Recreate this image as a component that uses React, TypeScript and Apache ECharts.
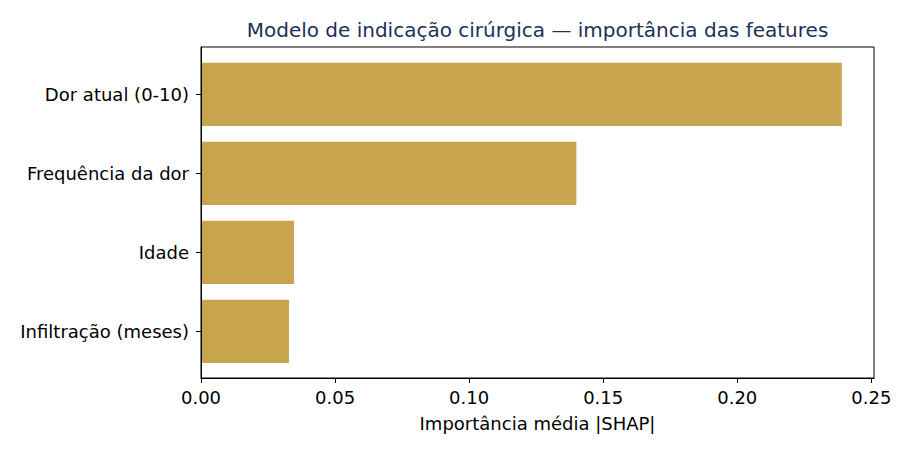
import { useEffect, useRef } from 'react'
import * as echarts from 'echarts'

// dados
const features = ['Dor atual (0-10)', 'Frequência da dor', 'Idade', 'Infiltração (meses)']
const importance = [0.239, 0.14, 0.0347, 0.0328]
const xTicks = [0, 0.05, 0.1, 0.15, 0.2, 0.25]

const FONT = 'DejaVu Sans'
const X_MAX = 0.251

export default function App() {
  const chartRef = useRef<HTMLDivElement>(null)

  useEffect(() => {
    if (!chartRef.current) return
    const chart = echarts.init(chartRef.current, null, { renderer: 'svg' })

    const option: echarts.EChartsOption = {
      animation: false,
      backgroundColor: '#ffffff',
      textStyle: { fontFamily: FONT },
      title: {
        text: 'Modelo de indicação cirúrgica — importância das features',
        left: 532.5,
        textAlign: 'center',
        top: 15,
        textStyle: {
          fontFamily: FONT,
          fontSize: 20,
          fontWeight: 'normal',
          color: '#1c3157'
        }
      },
      grid: [
        // moldura (eixos)
        {
          left: 201,
          top: 47,
          width: 673,
          height: 331,
          show: true,
          borderColor: '#000',
          borderWidth: 1,
          backgroundColor: 'transparent'
        },
        // área das barras
        {
          left: 201,
          top: 54.8,
          width: 673,
          height: 316
        }
      ],
      xAxis: [
        {
          type: 'value',
          gridIndex: 0,
          min: 0,
          max: X_MAX,
          z: 10,
          axisLine: { show: true, lineStyle: { color: '#000', width: 1 } },
          axisTick: {
            show: true,
            length: 5,
            customValues: xTicks,
            lineStyle: { color: '#000', width: 1 }
          },
          axisLabel: {
            customValues: xTicks,
            formatter: (v: number) => v.toFixed(2),
            fontSize: 18,
            color: '#000',
            fontFamily: FONT,
            margin: 10
          },
          splitLine: { show: false },
          name: 'Importância média |SHAP|',
          nameLocation: 'middle',
          nameGap: 36,
          nameTextStyle: { fontSize: 18, color: '#000', fontFamily: FONT }
        },
        {
          type: 'value',
          gridIndex: 1,
          min: 0,
          max: X_MAX,
          show: false
        }
      ],
      yAxis: [
        {
          type: 'value',
          gridIndex: 0,
          min: 0,
          max: 1,
          z: 10,
          axisLine: { show: true, lineStyle: { color: '#000', width: 1 } },
          axisTick: { show: false },
          axisLabel: { show: false },
          splitLine: { show: false }
        },
        {
          type: 'category',
          gridIndex: 1,
          data: features,
          inverse: true,
          z: 10,
          axisLine: { show: false },
          axisTick: {
            show: true,
            length: 5,
            alignWithLabel: true,
            lineStyle: { color: '#000', width: 1 }
          },
          axisLabel: {
            fontSize: 18,
            color: '#000',
            fontFamily: FONT,
            margin: 12
          },
          splitLine: { show: false }
        }
      ],
      series: [
        {
          type: 'bar',
          xAxisIndex: 1,
          yAxisIndex: 1,
          data: importance,
          barCategoryGap: '20%',
          itemStyle: { color: '#c8a44e' }
        }
      ]
    }

    chart.setOption(option)
    return () => {
      chart.dispose()
    }
  }, [])

  return (
    <div
      ref={chartRef}
      style={{ position: 'absolute', left: 0, top: 0, width: 910, height: 455 }}
    />
  )
}
